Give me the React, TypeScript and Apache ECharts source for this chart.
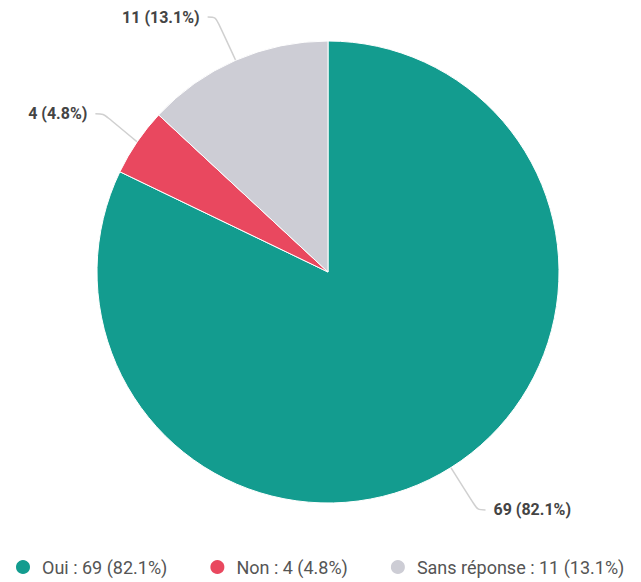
import React, { useEffect, useRef } from "react";
import * as echarts from "echarts";

const categories = ["Oui", "Non", "Sans réponse"];
const values = [69, 4, 11];
const colors = ["#139c8f", "#e9485f", "#cdcdd5"];

export default function App() {
  const ref = useRef<HTMLDivElement>(null);
  useEffect(() => {
    if (!ref.current) return;
    const chart = echarts.init(ref.current, undefined, { renderer: "svg" });
    const total = values.reduce((a, b) => a + b, 0);
    const data = categories.map((name, i) => ({ name, value: values[i], itemStyle: { color: colors[i] } }));
    chart.setOption({
      animation: false,
      textStyle: { fontFamily: "Roboto" },
      legend: {
        top: 550,
        left: 6,
        width: 619,
        padding: 0,
        icon: "circle",
        itemWidth: 16,
        itemHeight: 16,
        itemGap: 41,
        textStyle: { fontSize: 18, color: "#555", fontFamily: "Roboto", padding: [0, 0, 0, 6] },
        formatter: (name: string) => {
          const i = categories.indexOf(name);
          const v = values[i];
          return `${name} : ${v} (${((v / total) * 100).toFixed(1)}%)`;
        },
      },
      series: [
        {
          type: "pie",
          center: [320, 264],
          radius: 231,
          startAngle: 90,
          clockwise: true,
          itemStyle: { borderColor: "#fff", borderWidth: 1 },
          label: {
            show: true,
            formatter: (p: any) => `${p.value} (${p.percent.toFixed(1)}%)`,
            fontSize: 16,
            fontWeight: "bold",
            color: "#444",
            fontFamily: "Roboto",
            distanceToLabelLine: 8,
          },
          labelLine: {
            show: true,
            length: 50,
            length2: 8,
            smooth: true,
            lineStyle: { color: "#d0d0d0", width: 1.5 },
          },
          data,
        },
      ],
    });
    return () => chart.dispose();
  }, []);
  return <div ref={ref} style={{ width: 625, height: 574 }} />;
}
